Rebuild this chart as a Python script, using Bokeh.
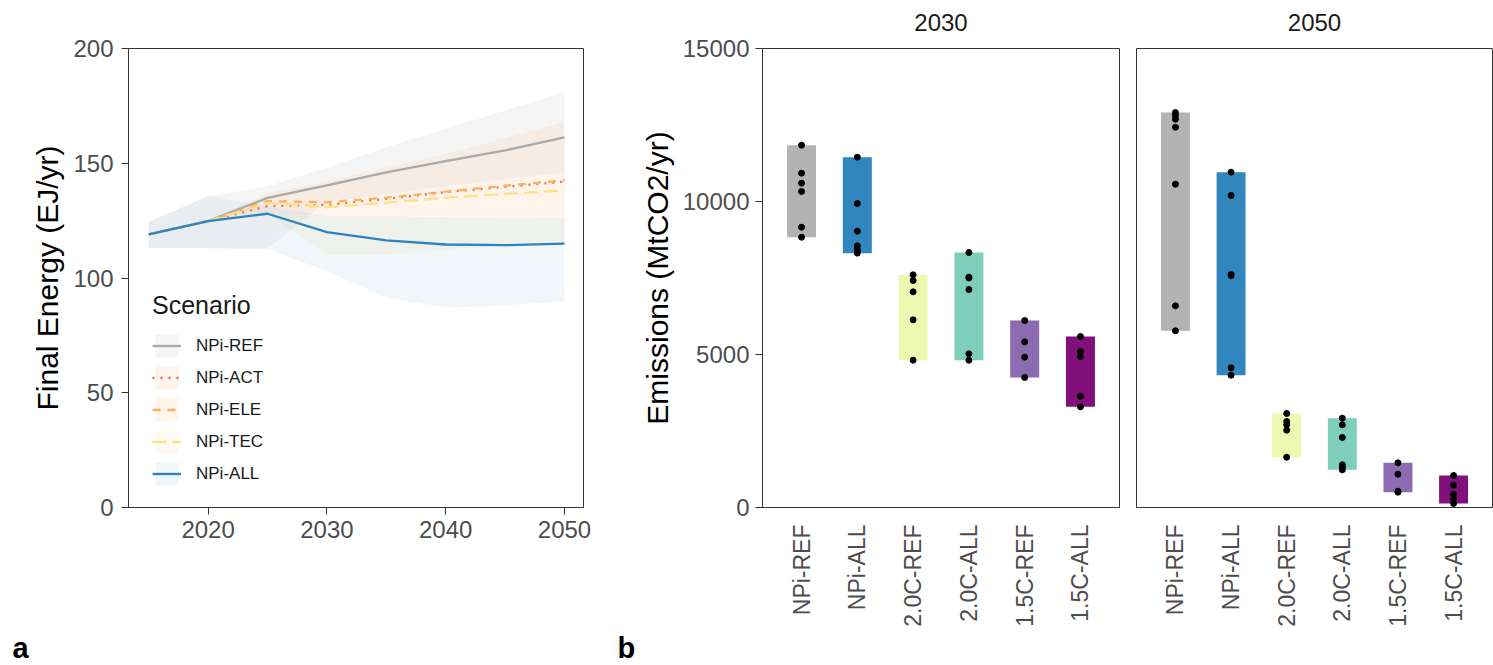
import math
from bokeh.plotting import figure
from bokeh.models import (Range1d, FactorRange, Legend, LegendItem,
                          FixedTicker, ColumnDataSource, CategoricalAxis)
from bokeh.layouts import row, column
from bokeh.embed import file_html
from bokeh.resources import INLINE
from bokeh.core.properties import value

FONT = "Liberation Sans"

# ---------------- panel a data ----------------
years = [2015, 2020, 2025, 2030, 2035, 2040, 2045, 2050]
scenarios_a = ["NPi-REF", "NPi-ACT", "NPi-ELE", "NPi-TEC", "NPi-ALL"]

ref_line = [119, 124.8, 134.9, 140.4, 146.0, 150.9, 155.6, 161.3]
act_line = [119, 124.8, 131.3, 131.9, 134.5, 137.4, 139.7, 142.0]
ele_line = [119, 124.8, 133.5, 133.0, 135.0, 137.6, 140.2, 142.6]
tec_line = [119, 124.8, 132.7, 130.9, 132.8, 135.0, 136.6, 138.2]
all_line = [119, 124.8, 128.0, 120.0, 116.4, 114.6, 114.3, 115.0]

ref_lo = [113, 113, 113, 133, 136.5, 140, 143, 146]
ref_hi = [124.5, 135.6, 140, 148, 157, 165, 173, 181]
act_lo = [119, 124.8, 128, 127, 127, 127, 126.5, 126.2]
act_hi = [119, 124.8, 133, 133, 136.5, 140, 143, 146]
ele_lo = [119, 124.8, 133, 133, 136.5, 140, 143, 146]
ele_hi = [119, 124.8, 137, 142, 148, 154, 161, 168]
tec_lo = [119, 124.8, 128, 110, 110, 112.5, 114, 114.6]
tec_hi = [119, 124.8, 128, 127, 127, 127, 126.5, 126.2]
all_lo = [113, 113, 112.5, 103, 91.4, 87, 88, 90]
all_hi = [124.5, 135.6, 131, 127, 127, 126.5, 126.3, 126.2]

colors_a = ["#aaaaaa", "#f46d43", "#fdae61", "#fee08b", "#2b83c0"]
ribbon_colors_a = ["#999999", "#fca55d", "#fdae61", "#f5d28a", "#6aa6c8"]
ribbon_alpha_a = [0.1, 0.12, 0.12, 0.12, 0.1]
dashes_a = ["solid", "2 6", "8 7", "14 6", "solid"]

# ---------------- panel b data ----------------
cats = ["NPi-REF", "NPi-ALL", "2.0C-REF", "2.0C-ALL", "1.5C-REF", "1.5C-ALL"]
bar_colors = ["#b3b3b3", "#3187bd", "#edf8b1", "#7fcdbb", "#8c6bb1", "#810f7c"]

e2030_npi_ref = [11840, 10925, 10600, 10327, 9160, 8833]
e2030_npi_all = [11448, 9935, 9030, 8551, 8420, 8312]
e2030_20_ref = [7604, 7418, 7048, 6133, 4815]
e2030_20_all = [8333, 7527, 7500, 7124, 5022, 4815]
e2030_15_ref = [6111, 5414, 4913, 4248]
e2030_15_all = [5588, 5098, 4935, 3638, 3290]

e2050_npi_ref = [12908, 12810, 12690, 12428, 10566, 6590, 5774]
e2050_npi_all = [10958, 10196, 7614, 7580, 4565, 4324]
e2050_20_ref = [3072, 2810, 2702, 2527, 1644]
e2050_20_all = [2918, 2702, 2288, 1395, 1317, 1231]
e2050_15_ref = [1460, 1089, 533, 500]
e2050_15_all = [1046, 729, 435, 284, 131]

y_ticks_a = [0, 50, 100, 150, 200]
x_ticks_a = [2020, 2030, 2040, 2050]
y_ticks_b = [0, 5000, 10000, 15000]

panel_tags = ["a", "b"]
panel_tag_x = [12, 617]

H = 630
TOP = 48
BOTTOM = 123
TAG_H = 35
TOTAL_W = 1493


def style_axes(p):
    p.grid.visible = False
    p.outline_line_color = "#333333"
    p.outline_line_width = 1
    for ax in p.axis:
        ax.axis_line_color = "#333333"
        ax.major_tick_line_color = "#333333"
        ax.major_tick_in = 0
        ax.major_tick_out = 7
        ax.minor_tick_line_color = None
        ax.major_label_text_font = FONT
        ax.major_label_text_font_size = "24px"
        ax.major_label_text_color = "#4d4d4d"
        ax.axis_label_text_font = FONT
        ax.axis_label_text_font_size = "30px"
        ax.axis_label_text_font_style = "normal"
        ax.axis_label_text_color = "#000000"


# ---------------- panel a ----------------
p1 = figure(width=600, height=H, x_range=Range1d(2013.3, 2051.6),
            y_range=Range1d(0, 200), output_backend="svg", toolbar_location=None,
            min_border_left=128, min_border_right=17, min_border_top=TOP,
            min_border_bottom=BOTTOM)
style_axes(p1)
p1.xaxis.ticker = FixedTicker(ticks=x_ticks_a)
p1.yaxis.ticker = FixedTicker(ticks=y_ticks_a)
p1.yaxis.axis_label = "Final Energy (EJ/yr)"
p1.yaxis.major_label_standoff = 8
p1.yaxis.axis_label_standoff = 6
p1.xaxis.major_label_standoff = 6

lines = [ref_line, act_line, ele_line, tec_line, all_line]
los = [ref_lo, act_lo, ele_lo, tec_lo, all_lo]
his = [ref_hi, act_hi, ele_hi, tec_hi, all_hi]

areas = []
for i, name in enumerate(scenarios_a):
    src = ColumnDataSource(dict(x=years, lo=los[i], hi=his[i]))
    r = p1.varea(x="x", y1="lo", y2="hi", source=src,
                 fill_color=ribbon_colors_a[i], fill_alpha=ribbon_alpha_a[i])
    areas.append(r)

line_rs = []
for i, name in enumerate(scenarios_a):
    src = ColumnDataSource(dict(x=years, y=lines[i]))
    r = p1.line(x="x", y="y", source=src, line_color=colors_a[i],
                line_width=2.3, line_dash=dashes_a[i])
    line_rs.append(r)

legend = Legend(items=[LegendItem(label=name, renderers=[areas[i], line_rs[i]])
                       for i, name in enumerate(scenarios_a)],
                location=(24, 19), title="Scenario")
legend.title_text_font = FONT
legend.title_text_font_size = "25px"
legend.title_text_font_style = "normal"
legend.title_text_color = "#1a1a1a"
legend.title_standoff = 11
legend.label_text_font = FONT
legend.label_text_font_size = "17px"
legend.label_text_color = "#1a1a1a"
legend.label_standoff = 15
legend.glyph_width = 29
legend.glyph_height = 29
legend.spacing = 3
legend.padding = 0
legend.margin = 0
legend.border_line_color = None
legend.background_fill_alpha = 0
p1.add_layout(legend)

# ---------------- panel b ----------------
yr_b = Range1d(0, 15000)


def make_panel(title, groups, left_border, right_border, width, show_y):
    p = figure(width=width, height=H,
               x_range=FactorRange(factors=cats, range_padding=0.2,
                                   range_padding_units="absolute"),
               y_range=yr_b, output_backend="svg", toolbar_location=None,
               min_border_left=left_border, min_border_right=right_border,
               min_border_top=TOP, min_border_bottom=BOTTOM)
    style_axes(p)
    p.xaxis.major_label_orientation = math.pi / 2
    p.xaxis.major_tick_out = 0
    p.xaxis.major_label_standoff = 17
    p.xaxis.major_label_text_font_size = "23px"
    p.yaxis.ticker = FixedTicker(ticks=y_ticks_b)
    p.yaxis.major_label_standoff = 6
    p.yaxis.axis_label_standoff = 6
    if show_y:
        p.yaxis.axis_label = "Emissions (MtCO2/yr)"
    else:
        p.yaxis.visible = False

    # facet strip label as a tick-less axis above the panel
    strip = CategoricalAxis(axis_label=title, axis_line_color=None,
                            major_tick_line_color=None, minor_tick_line_color=None,
                            major_label_text_font_size="1px",
                            major_label_text_alpha=0, major_label_standoff=0)
    strip.axis_label_text_font = FONT
    strip.axis_label_text_font_size = "24px"
    strip.axis_label_text_font_style = "normal"
    strip.axis_label_text_color = "#1a1a1a"
    strip.axis_label_standoff = 12
    p.add_layout(strip, "above")

    bars = ColumnDataSource(dict(cat=cats, lo=[min(g) for g in groups],
                                 hi=[max(g) for g in groups], color=bar_colors))
    p.vbar(x="cat", bottom="lo", top="hi", width=0.52, source=bars,
           fill_color="color", line_color=None)
    px, py = [], []
    for c, g in zip(cats, groups):
        px += [c] * len(g)
        py += g
    p.scatter(x=px, y=py, size=6, fill_color="black", line_color="black")
    return p


p2 = make_panel("2030", [e2030_npi_ref, e2030_npi_all, e2030_20_ref,
                         e2030_20_all, e2030_15_ref, e2030_15_all],
                162, 8, 527, True)
p3 = make_panel("2050", [e2050_npi_ref, e2050_npi_all, e2050_20_ref,
                         e2050_20_all, e2050_15_ref, e2050_15_all],
                9, 1, 366, False)

# ---------------- panel tags row ----------------
pt = figure(width=TOTAL_W, height=TAG_H, x_range=Range1d(0, TOTAL_W),
            y_range=Range1d(0, TAG_H), output_backend="svg", toolbar_location=None,
            title=None, x_axis_location=None, y_axis_location=None,
            min_border=0, min_border_left=0, min_border_right=0,
            min_border_top=0, min_border_bottom=0)
pt.grid.visible = False
pt.outline_line_color = None
pt.text(x=panel_tag_x, y=[TAG_H / 2, TAG_H / 2], text=panel_tags,
        text_font=value(FONT), text_font_size="29px", text_font_style="bold",
        text_color="#000000", text_baseline="middle")

layout = column(row(p1, p2, p3, spacing=0), pt, spacing=0)
open("out.html", "w").write(file_html(layout, INLINE))
